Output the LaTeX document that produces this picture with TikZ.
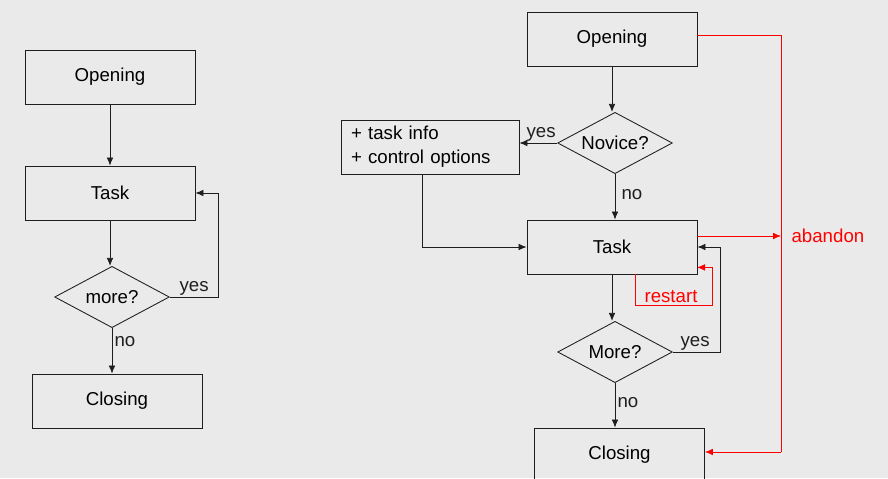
\documentclass[tikz,border=0pt]{standalone}
\usepackage{fontspec}
\setmainfont{Liberation Sans}
\usetikzlibrary{shapes.geometric,arrows.meta}
\definecolor{bggray}{RGB}{234,234,234}
\definecolor{inkgray}{RGB}{30,30,30}

\begin{document}
\begin{tikzpicture}[x=0.75pt,y=0.75pt,yscale=-1,xscale=1,
    font=\fontsize{14}{18}\selectfont,
    box/.style={draw=inkgray,line width=0.65pt,minimum width=127.5pt,minimum height=40.5pt,inner sep=2pt},
    ask/.style={draw=inkgray,line width=0.65pt,diamond,aspect=1.9,minimum width=86pt,minimum height=46pt,inner sep=0pt},
    flow/.style={draw=inkgray,line width=0.6pt,-{Latex[length=6pt,width=5pt]}},
    back/.style={draw=red,line width=0.6pt,-{Latex[length=6pt,width=5pt]}},
    lbl/.style={inner sep=1pt,text=inkgray}]
        \fill[bggray] (0,0) rectangle (888,478);
        \useasboundingbox (0,0) rectangle (888,478);

        \node[box] (open1) at (110,77) {Opening};
        \node[box] (task1) at (110,193) {Task};
        \node[ask] (more1) at (112,297) {more?};
        \node[box] (close1) at (117,401) {Closing};

        \draw[flow] (open1) -- (task1);
        \draw[flow] (task1) -- (task1 |- more1.north);
        \draw[flow] (more1.east) -- (218,297) |- (task1.east);
        \draw[flow] (more1.south) -- (more1.south |- close1.north);
        \node[lbl,anchor=south west] (yes1) at (178,297) {yes};
        \node[lbl,anchor=west] (no1) at (113,342) {no};

        \node[box] (open2) at (612,39) {Opening};
        \node[ask] (novice) at (615,143) {Novice?};
        \node[box,align=left,minimum width=133.5pt,text width=118.5pt,inner xsep=7.5pt] (info) at (430,147) {+ task info\\+ control options};
        \node[box] (task2) at (612,247) {Task};
        \node[ask] (more2) at (615,352) {More?};
        \node[box] (close2) at (619.5,455) {Closing};
        \coordinate (abtop) at (781,35);
        \coordinate (abmid) at (781,236);
        \coordinate (abbot) at (781,452);

        \draw[flow] (open2) -- (open2 |- novice.north);
        \draw[flow] (novice.west) -- (info.east |- novice.west);
        \draw[flow] (novice.south) -- (novice.south |- task2.north);
        \draw[flow] ([xshift=-6pt]info.south) |- (task2.west);
        \draw[flow] (task2) -- (task2 |- more2.north);
        \draw[flow] (more2.east) -- (720,352) |- (task2.east);
        \draw[flow] (more2.south) -- (more2.south |- close2.north);
        \draw[back] (task2.south) ++(23,0) -- ++(0,31) -- ++(77,0) -- ++(0,-38) -- ++(-15,0);
        \draw[back,-] (open2.east |- abtop) -- (abtop) -- (abbot);
        \draw[back] (abbot) -- (close2.east |- abbot);
        \draw[back] (task2.east |- abmid) -- (abmid);

        \node[lbl,anchor=south east] (yes2) at (novice.west) {yes};
        \node[lbl,anchor=west] (no2) at (620,195) {no};
        \node[lbl,anchor=south west] (yes3) at (679,352) {yes};
        \node[lbl,anchor=west] (no3) at (616,403) {no};
        \node[lbl,text=red] (restart) at (671,297) {restart};
        \node[lbl,text=red,anchor=west] (abandon) at (790,236) {abandon};
\end{tikzpicture}
\end{document}
